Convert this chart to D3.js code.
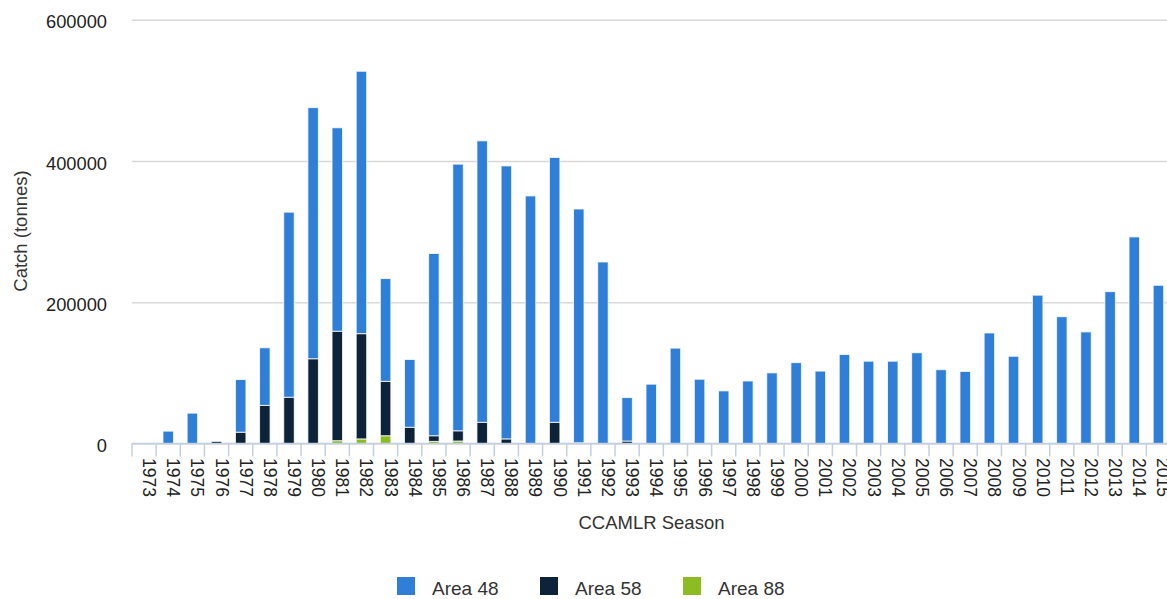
<!DOCTYPE html>
<html><head><meta charset="utf-8">
<script src="https://cdn.jsdelivr.net/npm/d3@7"></script>
<style>
body{margin:0;background:#fff;overflow:hidden;}
text{font-family:"Liberation Sans",Arial,Helvetica,sans-serif;}
</style>
</head><body>
<svg id="chart" width="1167" height="599"></svg>
<script>
const seasons = ["1973","1974","1975","1976","1977","1978","1979","1980","1981","1982","1983","1984","1985","1986","1987","1988","1989","1990","1991","1992","1993","1994","1995","1996","1997","1998","1999","2000","2001","2002","2003","2004","2005","2006","2007","2008","2009","2010","2011","2012","2013","2014","2015"];
const area48 = [0,17500,43000,0,74500,81500,262000,355500,288000,371500,145500,96000,258000,377500,398500,386500,350500,375000,331000,257000,61500,84000,135000,91000,74500,88500,100000,114500,102500,126000,116500,116500,128500,104500,102000,156500,123500,210000,179500,158000,215000,292500,224000];
const area58 = [0,0,0,3000,16000,54000,65500,120000,155000,149000,77000,23000,8000,14500,30000,6500,0,30000,1000,0,3500,0,0,0,0,0,0,0,0,0,0,0,0,0,0,0,0,0,0,0,0,0,0];
const area88 = [0,0,0,0,0,0,0,0,4000,6500,11000,0,3000,3500,0,0,0,0,0,0,0,0,0,0,0,0,0,0,0,0,0,0,0,0,0,0,0,0,0,0,0,0,0];
const yTicks = [0,200000,400000,600000];
const seriesNames = ["Area 48","Area 58","Area 88"];
const seriesColors = ["#2f7ed8","#0d233a","#8bbc21"];
const yTitle = "Catch (tonnes)";
const xTitle = "CCAMLR Season";

const W = 1167, H = 599;
const pLeft = 132, pRight = 1170.5, pTop = 19.7, pBottom = 443.5;
const svg = d3.select("#chart");

const rows = seasons.map((s,i)=>({season:s, a48:area48[i], a58:area58[i], a88:area88[i]}));
const stack = d3.stack().keys(["a88","a58","a48"]);
const layers = stack(rows);
const colorOf = {a48:seriesColors[0], a58:seriesColors[1], a88:seriesColors[2]};

const x = d3.scaleBand().domain(seasons).range([pLeft,pRight]).padding(0);
const y = d3.scaleLinear().domain([0,600000]).range([pBottom, pTop]);

// grid
const grid = svg.append("g").attr("transform",`translate(${pLeft},0)`)
  .call(d3.axisLeft(y).tickValues(yTicks).tickSize(-(W-pLeft)).tickFormat(""));
grid.select(".domain").remove();
grid.selectAll("line").attr("stroke","#d8d8d8").attr("stroke-width",1.5);

// y labels
const yl = svg.append("g").attr("transform",`translate(${pLeft},0)`)
  .call(d3.axisLeft(y).tickValues(yTicks).tickSize(0).tickPadding(25).tickFormat(d3.format("d")));
yl.select(".domain").remove();
yl.selectAll("text").attr("font-size","18.3px").attr("fill","#222").attr("dy","0.45em")
  .style("font-family","'Liberation Sans',Arial,sans-serif");

// bars
const barW = 10.5;
svg.append("g").selectAll("g").data(layers).join("g")
  .attr("fill", d=>colorOf[d.key])
  .selectAll("rect").data(d=>d.filter(p=>p[1]-p[0]>0)).join("rect")
  .attr("x", d=>x(d.data.season)+x.bandwidth()/2-barW/2)
  .attr("width", barW)
  .attr("y", d=>y(d[1]))
  .attr("height", d=>Math.max(0,y(d[0])-y(d[1])))
  .attr("stroke","#fff").attr("stroke-width",1).attr("stroke-opacity",0.8);

// x axis line and ticks
const xa = svg.append("g");
xa.append("line").attr("x1",pLeft).attr("x2",W).attr("y1",pBottom).attr("y2",pBottom)
  .attr("stroke","#c0d0e0").attr("stroke-width",1.5);
xa.selectAll("line.tk").data(seasons).join("line").attr("class","tk")
  .attr("x1",d=>x(d)).attr("x2",d=>x(d)).attr("y1",pBottom).attr("y2",pBottom+13)
  .attr("stroke","#c0d0e0").attr("stroke-width",1.5);
xa.selectAll("text").data(seasons).join("text")
  .attr("transform",d=>`translate(${x(d)+x.bandwidth()/2+5},458) rotate(90)`)
  .attr("text-anchor","start").attr("dominant-baseline","central")
  .attr("font-size","17.5px").attr("fill","#222").text(d=>d);

// titles
svg.append("text").attr("transform",`translate(20.5,231) rotate(-90)`)
  .attr("text-anchor","middle").attr("dominant-baseline","central")
  .attr("font-size","18.5px").attr("fill","#333").text(yTitle);
svg.append("text").attr("x",651.5).attr("y",529)
  .attr("text-anchor","middle").attr("font-size","18.5px").attr("fill","#333").text(xTitle);

// legend
const legX = [397, 540, 683];
const leg = svg.append("g");
seriesNames.forEach((n,i)=>{
  leg.append("rect").attr("x",legX[i]).attr("y",577).attr("width",18).attr("height",18).attr("fill",seriesColors[i]);
  leg.append("text").attr("x",legX[i]+35).attr("y",595).attr("font-size","19px").attr("fill","#333").text(n);
});
</script>
</body></html>
